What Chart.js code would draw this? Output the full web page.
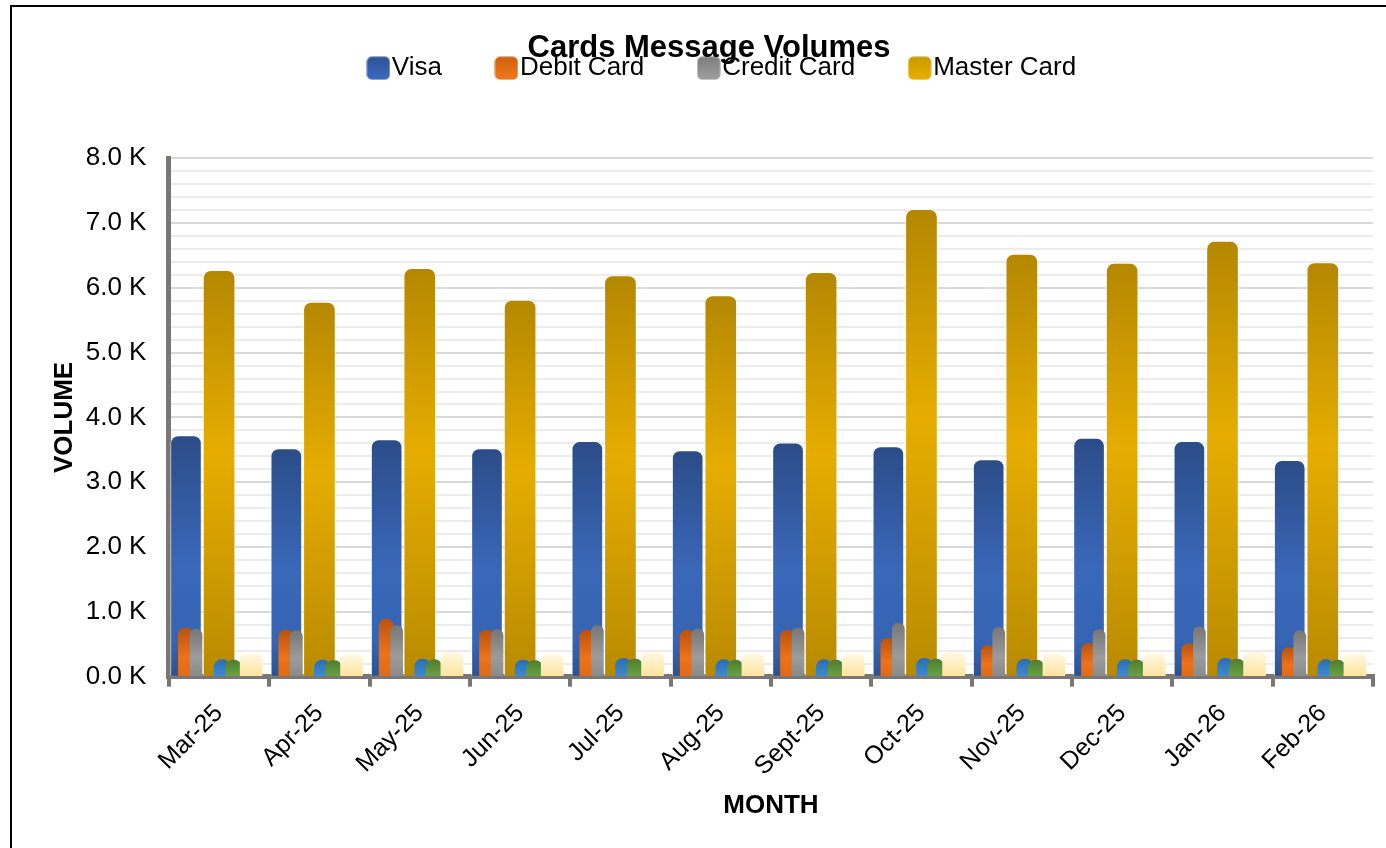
<!DOCTYPE html>
<html>
<head>
<meta charset="utf-8">
<script src="https://cdn.jsdelivr.net/npm/chart.js@4/dist/chart.umd.min.js"></script>
<style>
  body { margin: 0; background: #fff; overflow: hidden; }
  #frame { position: absolute; left: 10px; top: 5px; width: 1420px; height: 900px; border: 2px solid #000; }
  #c { position: absolute; left: 0; top: 0; }
</style>
</head>
<body>
<div id="frame"><canvas id="c" width="1406" height="841"></canvas></div>
<script>
// data
const months = ['Mar-25', 'Apr-25', 'May-25', 'Jun-25', 'Jul-25', 'Aug-25', 'Sept-25', 'Oct-25', 'Nov-25', 'Dec-25', 'Jan-26', 'Feb-26']
const seriesNames = ['Visa', 'Debit Card', 'Credit Card', 'Master Card', 'Series 5', 'Series 6', 'Series 7']
const visa = [3720, 3520, 3660, 3520, 3630, 3490, 3610, 3550, 3350, 3680, 3630, 3340]
const debit = [750, 720, 890, 720, 720, 720, 720, 590, 480, 515, 510, 450]
const credit = [735, 710, 790, 725, 790, 740, 755, 825, 760, 725, 770, 710]
const master = [6270, 5780, 6300, 5810, 6190, 5880, 6240, 7210, 6520, 6380, 6720, 6390]
const series5 = [263, 257, 273, 257, 283, 263, 263, 283, 273, 263, 283, 263]
const series6 = [257, 247, 263, 247, 273, 257, 257, 273, 257, 257, 273, 257]
const series7 = [350, 340, 376, 340, 376, 350, 350, 376, 350, 350, 376, 350]
const yTicks = [0, 1000, 2000, 3000, 4000, 5000, 6000, 7000, 8000]

const allSeries = [visa, debit, credit, master, series5, series6, series7]

// look of each series: offset inside the month slot, bar width, gradient
const seriesStyle = [
  { off: -0.33, w: 31, r: 8, stops: [[0, '#2b4c88'], [0.55, '#3a68b9'], [0.85, '#3664b3'], [1, '#2d5191']], border: 1 },
  { off: -0.335, w: 14, r: 7, stops: [[0, '#b9530f'], [0.6, '#ee7219'], [1, '#e06a14']], border: 0 },
  { off: -0.23, w: 12, r: 6, stops: [[0, '#777777'], [0.6, '#9b9b9b'], [1, '#8a8a8a']], border: 0 },
  { off: 0.0, w: 32, r: 8, stops: [[0, '#b48700'], [0.45, '#e6ad00'], [1, '#b88a00']], border: 1 },
  { off: 0.03, w: 16, r: 8, stops: [[0, '#2a6db0'], [1, '#3d8cd6']], border: 0 },
  { off: 0.145, w: 16, r: 8, stops: [[0, '#4f7d30'], [1, '#6aa343']], border: 0 },
  { off: 0.32, w: 22, r: 6, stops: [[0, '#fff8e3'], [1, '#ffe39a']], border: 0 }
]
const legendStops = [
  [[0, '#2d5296'], [1, '#3c6cc0']],
  [[0, '#d0600f'], [1, '#f07a1e']],
  [[0, '#7d7d7d'], [1, '#a0a0a0']],
  [[0, '#c99a00'], [1, '#e8b100']]
]

Chart.defaults.font.family = "'Liberation Sans', Arial, sans-serif"
Chart.defaults.color = '#000'

const axisGray = '#7a7674'
const legendGap = 51
const legendLift = 16
const legendShift = 18

function barGrad(stops) {
  return (ctx) => {
    const chart = ctx.chart
    if (!chart.chartArea || ctx.type !== 'data') return stops[1][1]
    const y = chart.scales.y
    const top = y.getPixelForValue(ctx.parsed.y)
    const base = y.getPixelForValue(0)
    const g = chart.ctx.createLinearGradient(0, top, 0, base)
    stops.forEach(s => g.addColorStop(s[0], s[1]))
    return g
  }
}

// small rounded square used as the legend marker
function legendBox(stops) {
  let cv = document.createElement('canvas')
  cv.width = 24
  cv.height = 24
  let c = cv.getContext('2d')
  let g = c.createLinearGradient(0, 0, 0, 24)
  stops.forEach(s => g.addColorStop(s[0], s[1]))
  c.fillStyle = g
  c.beginPath()
  c.roundRect(0.5, 0.5, 23, 23, 5)
  c.fill()
  return cv
}
const legendImgs = legendStops.map(legendBox)

let scales = {
  x: {
    type: 'category',
    offset: true,
    grid: { offset: true, drawOnChartArea: false, tickLength: 10, color: axisGray, lineWidth: 4 },
    border: { color: axisGray, width: 5 },
    ticks: { minRotation: 45, maxRotation: 45, autoSkip: false, font: { size: 25 }, color: '#000', padding: 12 },
    title: { display: true, text: 'MONTH', font: { size: 26, weight: 'bold' }, color: '#000', padding: { top: -4, bottom: 4 } }
  },
  y: {
    min: 0,
    max: 8000,
    afterBuildTicks: (axis) => {
      // major + 4 minor lines per 1 K
      let t = []
      for (let k = 0; k < yTicks.length; k++) {
        t.push({ value: yTicks[k] })
        if (k < yTicks.length - 1) {
          for (let m = 1; m < 5; m++) t.push({ value: yTicks[k] + m * 200 })
        }
      }
      axis.ticks = t
    },
    ticks: {
      autoSkip: false,
      font: { size: 26 },
      color: '#000',
      padding: 22.5,
      callback: (v) => yTicks.includes(v) ? (v / 1000).toFixed(1) + ' K' : ''
    },
    grid: {
      drawTicks: false,
      color: (c) => yTicks.includes(c.tick.value) ? '#d9d9d9' : '#ececec',
      lineWidth: 2
    },
    border: { color: axisGray, width: 5 },
    title: { display: true, text: 'VOLUME', font: { size: 26, weight: 'bold' }, color: '#000', padding: { top: 4, bottom: -17 } }
  }
}

let datasets = allSeries.map((vals, i) => {
  let st = seriesStyle[i]
  // every series gets its own hidden axis, shifted by its offset inside the month slot
  scales['xs' + i] = { type: 'linear', display: false, offset: false, min: -0.5 - st.off, max: months.length - 0.5 - st.off }
  return {
    label: seriesNames[i],
    data: vals.map((v, k) => ({ x: k, y: v })),
    xAxisID: 'xs' + i,
    grouped: false,
    order: allSeries.length - i,
    barThickness: st.w,
    maxBarThickness: st.w,
    borderRadius: st.r,
    borderSkipped: 'start',
    borderWidth: st.border,
    borderColor: 'rgba(255,255,255,0.55)',
    backgroundColor: barGrad(st.stops)
  }
})

const legendSpace = {
  id: 'legendSpace',
  beforeInit(chart) {
    const fit = chart.legend.fit
    chart.legend.fit = function () {
      fit.bind(chart.legend)()
      this.height += legendGap
    }
  },
  afterLayout(chart) {
    // pull the legend row up under the title and a little to the right, like the original
    let lg = chart.legend
    lg.top -= legendLift
    lg.bottom -= legendLift
    lg.left += legendShift
    lg.right += legendShift
  }
}

new Chart(document.getElementById('c'), {
  type: 'bar',
  data: { labels: months, datasets: datasets },
  options: {
    responsive: false,
    animation: false,
    devicePixelRatio: 1,
    layout: { padding: { left: 33, right: 45, top: 0, bottom: 23 } },
    scales: scales,
    plugins: {
      title: {
        display: true,
        text: 'Cards Message Volumes',
        font: { size: 31, weight: 'bold' },
        color: '#000',
        padding: { top: 23, bottom: -60 }
      },
      legend: {
        position: 'top',
        labels: {
          usePointStyle: true,
          pointStyleWidth: 1,
          boxHeight: 24,
          padding: 64,
          font: { size: 26 },
          color: '#000',
          generateLabels: (chart) => {
            let items = Chart.defaults.plugins.legend.labels.generateLabels(chart)
            return items
              .filter(it => it.datasetIndex < 4)
              .sort((a, b) => a.datasetIndex - b.datasetIndex)
              .map(it => Object.assign(it, {
                pointStyle: legendImgs[it.datasetIndex],
                lineWidth: 0
              }))
          }
        }
      },
      tooltip: { enabled: false }
    }
  },
  plugins: [legendSpace]
})
</script>
</body>
</html>
